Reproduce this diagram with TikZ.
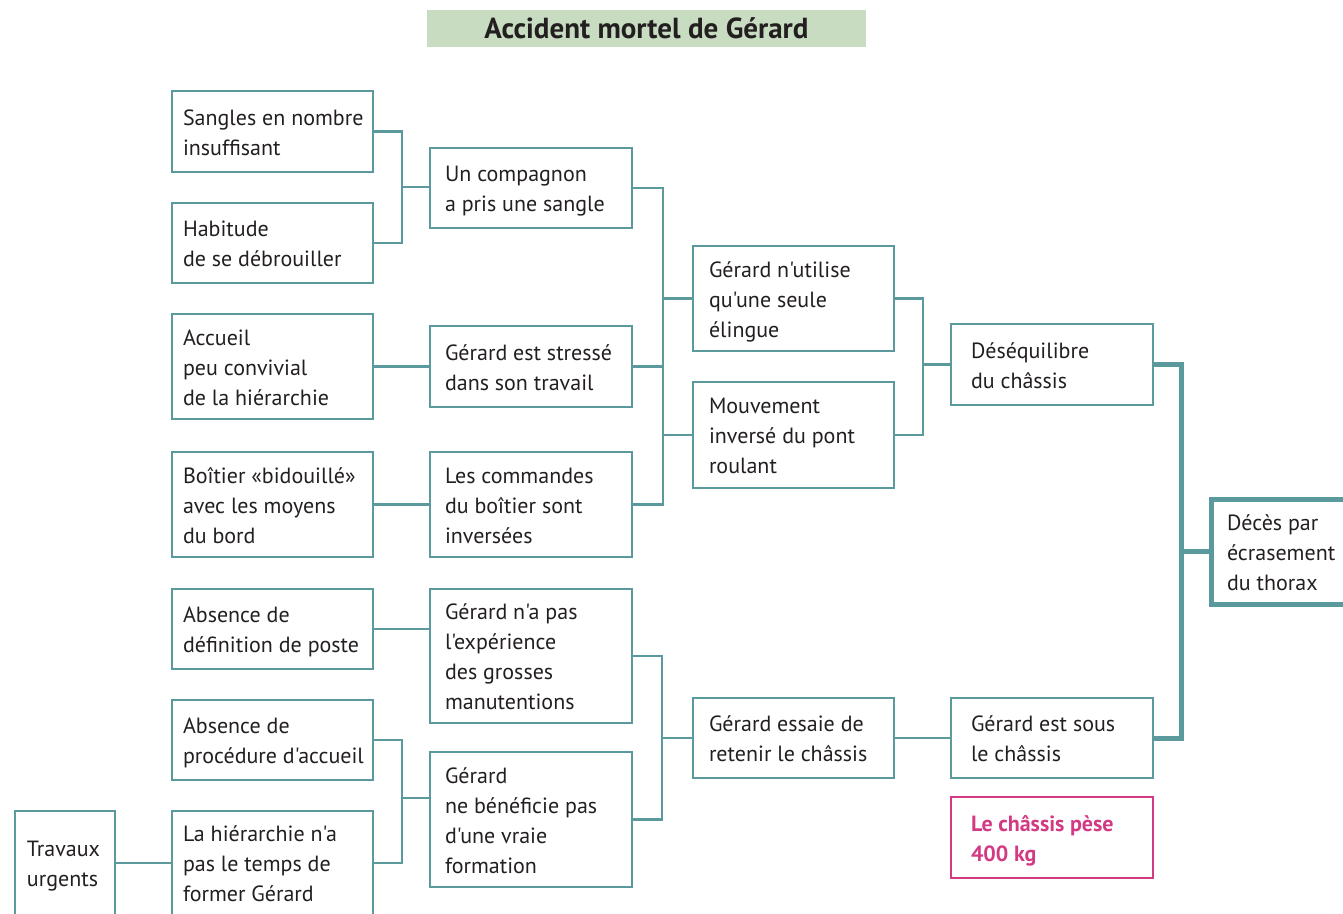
\documentclass[tikz,border=0pt]{standalone}
\usepackage{fontspec}
\setmainfont{PT Sans}[Ligatures=TeXOff]
\definecolor{teal}{HTML}{5A9A9C}
\definecolor{magenta}{HTML}{D33A84}
\definecolor{titlegreen}{HTML}{C8DCC2}
\definecolor{ink}{HTML}{231F20}
\newcommand\bx[8][]{% opts, name, x1,y1,x2,y2,pad, text
  \pgfmathsetmacro\bxw{#5-#3}\pgfmathsetmacro\bxh{#6-#4}%
  \pgfmathsetmacro\bxt{#5-#3-2*#7}%
  \pgfmathsetmacro\bxcx{(#3+#5)/2}\pgfmathsetmacro\bxcy{(#4+#6)/2}%
  \node[box,minimum width=\bxw,minimum height=\bxh,inner xsep=#7,#1] (#2) at (\bxcx,\bxcy)
    {\makebox[\bxt pt][l]{\raisebox{-2.5pt}[\height][\depth]{\begin{tabular}{@{}l@{}}#8\end{tabular}}}};}
\tikzset{
  box/.style={draw=teal,line width=2.6pt,rectangle,inner ysep=0pt,text=ink,
    font=\fontsize{22}{30}\selectfont},
  link/.style={draw=teal,line width=2.4pt},
  biglink/.style={draw=teal,line width=5pt},
}
\begin{document}
\begin{tikzpicture}[x=1pt,y=-1pt]
\useasboundingbox (0,0) rectangle (1343,913);
\node[fill=titlegreen,minimum width=439,minimum height=37,inner sep=0pt,text=ink,
  font=\fontsize{29}{30}\selectfont\bfseries] (title) at (646.5,28.5) {Accident mortel de Gérard};

\bx{sangles}{172}{91}{373}{172}{11}{Sangles en nombre\\insuffisant}
\bx{habitude}{172}{203}{373}{283}{11}{Habitude\\de se débrouiller}
\bx{accueil}{172}{314}{373}{419}{11}{Accueil\\peu convivial\\de la hiérarchie}
\bx{boitier}{172}{452}{373}{557}{11}{Boîtier «bidouillé»\\avec les moyens\\du bord}
\bx{definition}{172}{589}{373}{669}{11}{Absence de\\définition de poste}
\bx{procedure}{172}{700}{373}{780}{11}{Absence de\\procédure d'accueil}
\bx{hierarchie}{172}{811}{373}{915}{11}{La hiérarchie n'a\\pas le temps de\\former Gérard}
\bx{travaux}{15}{811}{115}{915}{12}{Travaux\\urgents}

\bx{compagnon}{430}{148}{632}{228}{15}{Un compagnon\\a pris une sangle}
\bx{stresse}{430}{326}{632}{407}{15}{Gérard est stressé\\dans son travail}
\bx{commandes}{430}{452}{632}{557}{15}{Les commandes\\du boîtier sont\\inversées}
\bx{experience}{430}{589}{632}{723}{15}{Gérard n'a pas\\l'expérience\\des grosses\\manutentions}
\bx{beneficie}{430}{752}{632}{887}{15}{Gérard\\ne bénéficie pas\\d'une vraie\\formation}

\bx{utilise}{693}{246}{894}{351}{16}{Gérard n'utilise\\qu'une seule\\élingue}
\bx{mouvement}{693}{382}{894}{488}{16}{Mouvement\\inversé du pont\\roulant}
\bx{essaie}{693}{698}{894}{778}{16}{Gérard essaie de\\retenir le châssis}

\bx{desequilibre}{951}{324}{1153}{405}{20}{Déséquilibre\\du châssis}
\bx{sous}{951}{698}{1153}{778}{20}{Gérard est sous\\le châssis}
\bx[draw=magenta,text=magenta,font=\fontsize{22}{30}\selectfont\bfseries]{pese}{951}{797}{1153}{878}{20}{Le châssis pèse\\400 kg}

\bx[line width=5pt]{deces}{1211}{499}{1350}{604}{16}{Décès par\\écrasement\\du thorax}

% junction coordinates
\coordinate (j1) at (402,187);
\coordinate (j2) at (663,0);
\coordinate (j3) at (923,0);
\coordinate (j4) at (1181,0);
\coordinate (j5) at (402,798);
\coordinate (j6) at (662,0);

\draw[link] (sangles.east) -| (j1) |- (habitude.east);
\draw[link] (j1) -- (compagnon.west |- j1);
\draw[link] (accueil.east) -- (stresse.west);
\draw[link] (boitier.east) -- (commandes.west);
\draw[link] (compagnon.east) -| (j2 |- commandes.east) -- (commandes.east);
\draw[link] (stresse.east) -- (j2 |- stresse.east);
\draw[link] (j2 |- utilise.west) -- (utilise.west);
\draw[link] (j2 |- mouvement.west) -- (mouvement.west);
\draw[link] (utilise.east) -| (j3 |- mouvement.east) -- (mouvement.east);
\draw[link] (j3 |- desequilibre.west) -- (desequilibre.west);
\draw[biglink] (desequilibre.east) -| (j4 |- sous.east) -- (sous.east);
\draw[biglink] (j4 |- deces.west) -- (deces.west);

\draw[link] (definition.east) -- (definition.east -| experience.west);
\draw[link] (procedure.east) -| (j5) |- (hierarchie.east);
\draw[link] (j5) -- (j5 -| beneficie.west);
\draw[link] (travaux.east) -- (hierarchie.west);
\draw[link] (experience.east) -| (j6 |- beneficie.east) -- (beneficie.east);
\draw[link] (j6 |- essaie.west) -- (essaie.west);
\draw[link] (essaie.east) -- (sous.west);
\end{tikzpicture}
\end{document}
